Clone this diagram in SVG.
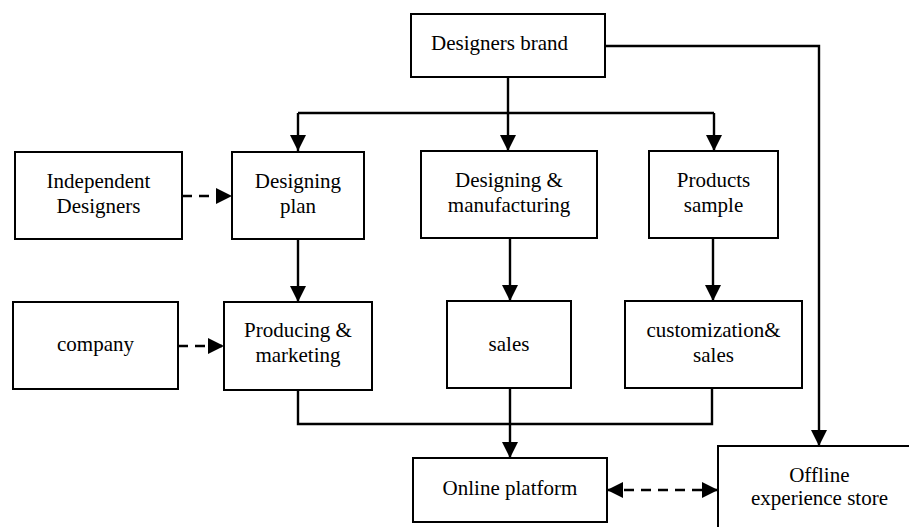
<svg xmlns="http://www.w3.org/2000/svg" width="909" height="527" viewBox="0 0 909 527">
<defs>
<marker id="ah" markerUnits="userSpaceOnUse" markerWidth="16" markerHeight="16" viewBox="0 0 16 16" refX="16" refY="8" orient="auto-start-reverse">
<path d="M0,0 L16,8 L0,16 Z" fill="#000"/>
</marker>
</defs>
<rect width="909" height="527" fill="#fff"/>
<g id="connectors" fill="none" stroke="#000" stroke-width="2.4">
<path d="M605,46 H819 V446" marker-end="url(#ah)"/>
<path d="M508,77 V113"/>
<path d="M298,113 H714"/>
<path d="M298,113 V151" marker-end="url(#ah)"/>
<path d="M508,113 V151" marker-end="url(#ah)"/>
<path d="M714,113 V151" marker-end="url(#ah)"/>
<path d="M182,196 H232" stroke-dasharray="10 7" marker-end="url(#ah)"/>
<path d="M298,239 V302" marker-end="url(#ah)"/>
<path d="M510,238 V301" marker-end="url(#ah)"/>
<path d="M713,238 V301" marker-end="url(#ah)"/>
<path d="M178,346 H224" stroke-dasharray="10 7" marker-end="url(#ah)"/>
<path d="M298,390 V424 H712 V388"/>
<path d="M510,388 V458" marker-end="url(#ah)"/>
<path d="M607,490 H718" stroke-dasharray="10 7" marker-start="url(#ah)" marker-end="url(#ah)"/>
</g>
<g id="designers-brand"><rect x="411" y="14" width="194" height="63" fill="#fff" stroke="#000" stroke-width="2"/><text x="431" y="50" font-family="Liberation Serif" font-size="21">Designers brand</text></g>
<g id="independent-designers"><rect x="15" y="152" width="167" height="87" fill="#fff" stroke="#000" stroke-width="2"/><text x="46.6" y="188" font-family="Liberation Serif" font-size="21">Independent</text><text x="56.5" y="213" font-family="Liberation Serif" font-size="21">Designers</text></g>
<g id="designing-plan"><rect x="232" y="152" width="132" height="87" fill="#fff" stroke="#000" stroke-width="2"/><text x="254.8" y="188" font-family="Liberation Serif" font-size="21">Designing</text><text x="279.9" y="213" font-family="Liberation Serif" font-size="21">plan</text></g>
<g id="designing-manufacturing"><rect x="421" y="151" width="176" height="87" fill="#fff" stroke="#000" stroke-width="2"/><text x="455" y="187" font-family="Liberation Serif" font-size="21">Designing &amp;</text><text x="447.8" y="212" font-family="Liberation Serif" font-size="21">manufacturing</text></g>
<g id="products-sample"><rect x="649" y="151" width="129" height="87" fill="#fff" stroke="#000" stroke-width="2"/><text x="676.8" y="187" font-family="Liberation Serif" font-size="21">Products</text><text x="683.8" y="212" font-family="Liberation Serif" font-size="21">sample</text></g>
<g id="company"><rect x="13" y="302" width="165" height="87" fill="#fff" stroke="#000" stroke-width="2"/><text x="57" y="351" font-family="Liberation Serif" font-size="21">company</text></g>
<g id="producing-marketing"><rect x="224" y="302" width="148" height="88" fill="#fff" stroke="#000" stroke-width="2"/><text x="244" y="337" font-family="Liberation Serif" font-size="21">Producing &amp;</text><text x="255.4" y="362" font-family="Liberation Serif" font-size="21">marketing</text></g>
<g id="sales"><rect x="447" y="301" width="124" height="87" fill="#fff" stroke="#000" stroke-width="2"/><text x="488.6" y="351" font-family="Liberation Serif" font-size="21">sales</text></g>
<g id="customization-sales"><rect x="625" y="301" width="177" height="87" fill="#fff" stroke="#000" stroke-width="2"/><text x="646.4" y="337" font-family="Liberation Serif" font-size="21">customization&amp;</text><text x="693.1" y="362" font-family="Liberation Serif" font-size="21">sales</text></g>
<g id="online-platform"><rect x="413" y="458" width="194" height="64" fill="#fff" stroke="#000" stroke-width="2"/><text x="442.6" y="495" font-family="Liberation Serif" font-size="21">Online platform</text></g>
<g id="offline-store"><rect x="718" y="446" width="203" height="100" fill="#fff" stroke="#000" stroke-width="2"/><text x="789.2" y="482" font-family="Liberation Serif" font-size="21">Offline</text><text x="751" y="505" font-family="Liberation Serif" font-size="21">experience store</text></g>
</svg>
